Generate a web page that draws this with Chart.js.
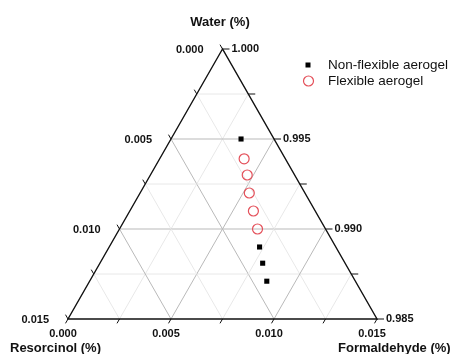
<!DOCTYPE html>
<html>
<head>
<meta charset="utf-8">
<script src="https://cdn.jsdelivr.net/npm/chart.js@4"></script>
<style>
  html, body { margin: 0; padding: 0; background: #fff; }
  #wrap { width: 451px; height: 354px; }
</style>
</head>
<body>
<div id="wrap"><canvas id="ternaryChart" width="451" height="354"></canvas></div>
<script>
// Compositions (mass fraction)
const nonFlexWater = [0.9950, 0.9890, 0.9881, 0.9871];
const nonFlexResorcinol = [0.0016, 0.0037, 0.0040, 0.0043];
const nonFlexFormaldehyde = [0.0034, 0.0073, 0.0079, 0.0086];

const flexWater = [0.9939, 0.9930, 0.9920, 0.9910, 0.9900];
const flexResorcinol = [0.0020, 0.0023, 0.0027, 0.0030, 0.0033];
const flexFormaldehyde = [0.0041, 0.0047, 0.0053, 0.0060, 0.0067];

const waterTicks = ['1.000', '0.995', '0.990', '0.985'];
const resorcinolTicks = ['0.000', '0.005', '0.010', '0.015'];
const formaldehydeTicks = ['0.000', '0.005', '0.010', '0.015'];

const seriesNames = ['Non-flexible aerogel', 'Flexible aerogel'];

const WATER_MIN = 0.985;
const SPAN = 0.015;
const FONT = '"Liberation Sans", Arial, sans-serif';

// ternary -> cartesian (unit triangle, y = water fraction of span)
function toPoint(water, formaldehyde) {
    const c = (water - WATER_MIN) / SPAN;
    const a = formaldehyde / SPAN;
    return { x: a + c / 2, y: c };
}

const nonFlexData = nonFlexWater.map((w, i) => toPoint(w, nonFlexFormaldehyde[i]));
const flexData = flexWater.map((w, i) => toPoint(w, flexFormaldehyde[i]));

const ternaryPlugin = {
    id: 'ternary',
    beforeDatasetsDraw(chart) {
        const ctx = chart.ctx;
        const xs = chart.scales.x, ys = chart.scales.y;
        const px = (a, c) => [xs.getPixelForValue(a + c / 2), ys.getPixelForValue(c)];

        ctx.save();
        // grid lines
        for (let k = 1; k < 6; k++) {
            const f = k / 6;
            ctx.strokeStyle = (k % 2 === 0) ? '#b9b9b9' : '#e8e8e8';
            ctx.lineWidth = 1;
            const lines = [
                [px(0, f), px(1 - f, f)],      // water constant
                [px(f, 0), px(0 + f, 1 - f)],  // formaldehyde constant
                [px(1 - f, 0), px(0, 1 - f)]   // resorcinol constant
            ];
            lines.forEach(l => {
                ctx.beginPath();
                ctx.moveTo(l[0][0], l[0][1]);
                ctx.lineTo(l[1][0], l[1][1]);
                ctx.stroke();
            });
        }

        // frame
        const A = px(0, 1), L = px(0, 0), R = px(1, 0);
        ctx.strokeStyle = '#111';
        ctx.lineWidth = 1.4;
        ctx.beginPath();
        ctx.moveTo(A[0], A[1]);
        ctx.lineTo(L[0], L[1]);
        ctx.lineTo(R[0], R[1]);
        ctx.closePath();
        ctx.stroke();

        // ticks
        ctx.lineWidth = 1;
        for (let k = 0; k <= 6; k++) {
            const f = k / 6;
            const len = 5;
            // water (right edge), horizontal
            let p = px(1 - f, f);
            ctx.beginPath();
            ctx.moveTo(p[0], p[1]);
            ctx.lineTo(p[0] + len + 2, p[1]);
            ctx.stroke();
            // resorcinol (left edge), up-left
            p = px(0, 1 - f);
            ctx.beginPath();
            ctx.moveTo(p[0], p[1]);
            ctx.lineTo(p[0] - len * 0.5, p[1] - len * 0.866);
            ctx.stroke();
            // formaldehyde (bottom), down-left
            p = px(f, 0);
            ctx.beginPath();
            ctx.moveTo(p[0], p[1]);
            ctx.lineTo(p[0] - len * 0.5, p[1] + len * 0.866);
            ctx.stroke();
        }
        ctx.restore();
    },
    afterDraw(chart) {
        const ctx = chart.ctx;
        const xs = chart.scales.x, ys = chart.scales.y;
        const px = (a, c) => [xs.getPixelForValue(a + c / 2), ys.getPixelForValue(c)];

        ctx.save();
        ctx.fillStyle = '#111';
        ctx.font = 'bold 11px ' + FONT;
        ctx.textBaseline = 'middle';

        waterTicks.forEach((t, i) => {
            const c = 1 - i / 3;
            const p = px(1 - c, c);
            ctx.textAlign = 'left';
            ctx.fillText(t, p[0] + 9, p[1]);
        });
        resorcinolTicks.forEach((t, i) => {
            const c = 1 - i / 3;
            const p = px(0, c);
            ctx.textAlign = 'right';
            ctx.fillText(t, p[0] - 19, p[1] + 1);
        });
        formaldehydeTicks.forEach((t, i) => {
            const p = px(i / 3, 0);
            ctx.textAlign = 'center';
            ctx.fillText(t, p[0] - 5, p[1] + 15);
        });

        // axis titles
        ctx.font = 'bold 13px ' + FONT;
        ctx.textAlign = 'center';
        ctx.fillText('Water (%)', 220, 22);
        ctx.textAlign = 'left';
        ctx.fillText('Resorcinol (%)', 10, 348);
        ctx.fillText('Formaldehyde (%)', 338, 348);

        // legend
        const ds = chart.data.datasets;
        ctx.font = '13.5px ' + FONT;
        ctx.fillStyle = ds[0].backgroundColor;
        ctx.fillRect(305.5, 62.5, 5, 5);
        ctx.beginPath();
        ctx.arc(308.5, 81, 5, 0, Math.PI * 2);
        ctx.strokeStyle = ds[1].borderColor;
        ctx.lineWidth = ds[1].borderWidth;
        ctx.stroke();
        ctx.fillStyle = '#111';
        ctx.fillText(seriesNames[0], 328, 65);
        ctx.fillText(seriesNames[1], 328, 81);
        ctx.restore();
    }
};

const chart = new Chart(document.getElementById('ternaryChart').getContext('2d'), {
    type: 'scatter',
    data: {
        datasets: [
            {
                label: seriesNames[0],
                data: nonFlexData,
                pointStyle: 'rect',
                pointRadius: 3.6,
                backgroundColor: '#000',
                borderColor: '#000',
                borderWidth: 0,
                clip: false
            },
            {
                label: seriesNames[1],
                data: flexData,
                pointStyle: 'circle',
                pointRadius: 5,
                backgroundColor: 'rgba(0,0,0,0)',
                borderColor: '#e4505a',
                borderWidth: 1.2,
                clip: false
            }
        ]
    },
    options: {
        responsive: false,
        animation: false,
        layout: { padding: { left: 68, right: 74, top: 49, bottom: 35 } },
        scales: {
            x: { type: 'linear', min: 0, max: 1, display: false },
            y: { type: 'linear', min: 0, max: 1, display: false }
        },
        plugins: {
            legend: { display: false },
            tooltip: { enabled: false }
        }
    },
    plugins: [ternaryPlugin]
});
</script>
</body>
</html>
